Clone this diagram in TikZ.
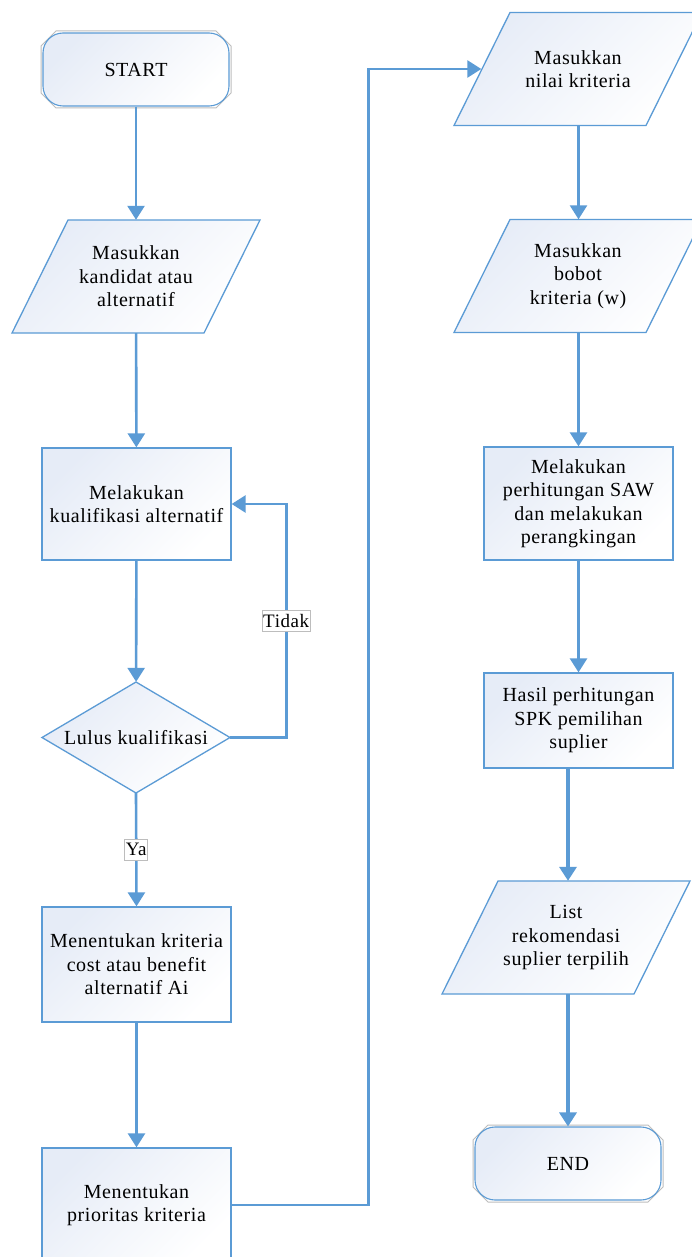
\documentclass[tikz,border=0pt]{standalone}
\usepackage{fontspec}
\setmainfont{Liberation Serif}[LetterSpace=3]
\usetikzlibrary{arrows.meta}

\definecolor{flowblue}{HTML}{5B9BD5}
\definecolor{shadeblue}{HTML}{E6ECF7}
\definecolor{termgrey}{HTML}{BDBDBD}

% parallelogram (input/output): #1 name, #2 cx, #3 cy, #4 text
\newcommand\ioshape[4]{%
  \path[boxfill] (#2-124,#3+56.5) -- (#2-68,#3-56.5) -- (#2+124,#3-56.5) -- (#2+68,#3+56.5) -- cycle;
  \node[txt, minimum width=193pt, minimum height=113pt] (#1) at (#2,#3) {#4};}

% terminal: grey chamfered frame around a rounded box
\newcommand\termshape[4]{%
  \path[draw=termgrey, line width=1pt]
    (#2-80,#3-38.5) -- (#2+80,#3-38.5) -- (#2+95,#3-23.5) -- (#2+95,#3+23.5)
    -- (#2+80,#3+38.5) -- (#2-80,#3+38.5) -- (#2-95,#3+23.5) -- (#2-95,#3-23.5) -- cycle;
  \node[boxfill, txt, rectangle, rounded corners=20pt, line width=1.1pt,
        minimum width=186pt, minimum height=73pt] (#1) at (#2,#3) {#4};}

\begin{document}
\begin{tikzpicture}[x=1pt,y=-1pt,
  txt/.style={font=\fontsize{20}{23.5}\selectfont, align=center, text=black, inner sep=0pt},
  boxfill/.style={draw=flowblue, line width=1.3pt, top color=shadeblue, bottom color=white, shading angle=45},
  procbox/.style={boxfill, txt, rectangle, minimum width=189pt},
  flow/.style={draw=flowblue, line width=2.6pt, -{Triangle[width=17pt,length=14pt]}},
  flowthick/.style={flow, line width=3.4pt},
  lbl/.style={fill=white, draw=termgrey, line width=0.8pt, inner xsep=1pt, inner ysep=4pt,
              text=black, font=\fontsize{19}{21}\selectfont}]

\useasboundingbox (0,0) rectangle (692,1257);
\fill[white] (0,0) rectangle (692,1257);
\clip (0,0) rectangle (692,1257);

% left column
\termshape{start}{136}{69.5}{START}
\ioshape{incand}{136}{276.5}{Masukkan\\kandidat atau\\alternatif}
\node[procbox, minimum height=112pt] (qual) at (136.5,504) {Melakukan\\kualifikasi alternatif};
\path[boxfill] (136,682) -- (230,737.5) -- (136,793) -- (42,737.5) -- cycle;
\node[txt, minimum width=188pt, minimum height=111pt] (dec) at (136,737.5) {Lulus kualifikasi};
\node[procbox, minimum height=115pt] (crit) at (136.5,964.5) {Menentukan kriteria\\cost atau benefit\\alternatif Ai};
\node[procbox, minimum height=114pt] (prio) at (136.5,1205) {Menentukan\\prioritas kriteria};

% right column
\ioshape{innilai}{578}{69}{Masukkan\\nilai kriteria}
\ioshape{inbobot}{578}{276}{Masukkan\\bobot\\kriteria (w)}
\node[procbox, minimum height=113pt] (saw) at (578.5,503.5) {Melakukan\\perhitungan SAW\\dan melakukan\\perangkingan};
\node[procbox, minimum height=95pt] (hasil) at (578.5,720.5) {Hasil perhitungan\\SPK pemilihan\\suplier};
\ioshape{inlist}{566}{937.5}{List\\rekomendasi\\suplier terpilih};
\termshape{end}{568}{1163.5}{END}

% connectors
\draw[flow] (start) -- (incand);
\draw[flow] (incand) -- (qual);
\draw[flow] (qual) -- (dec);
\draw[flow] (dec.east) -- ++(56,0) |- node[lbl, pos=0.25] {Tidak} (qual.east);
\draw[flow] (dec.south) -- node[lbl] {Ya} (crit.north);
\draw[flow] (crit) -- (prio);
\draw[flow] (prio.east) -- ++(137,0) |- (innilai.west);
\draw[flow] (innilai.south -| saw.north) -- (inbobot.north -| saw.north);
\draw[flow] (inbobot.south -| saw.north) -- (saw.north);
\draw[flow] (saw) -- (hasil);
\draw[flowthick] (hasil.south -| end.north) -- (inlist.north -| end.north);
\draw[flowthick] (inlist.south -| end.north) -- (end.north);

\end{tikzpicture}
\end{document}
